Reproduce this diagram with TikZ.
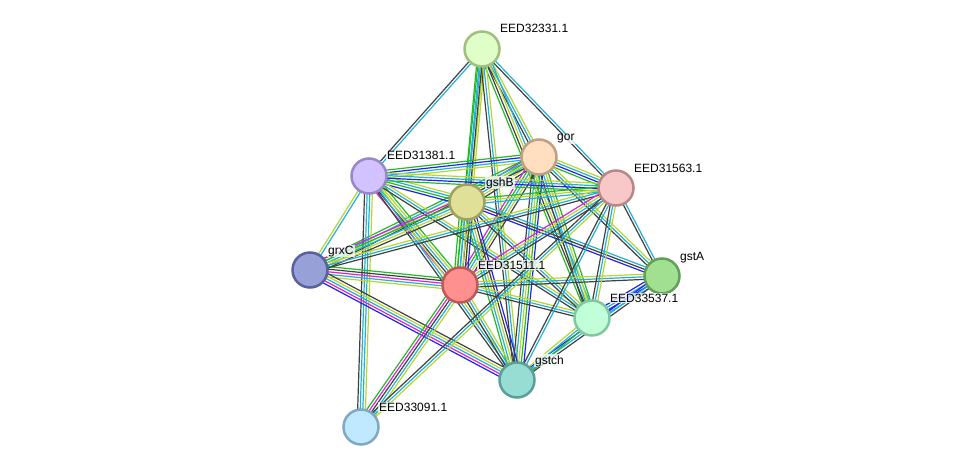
\documentclass[tikz,border=0pt]{standalone}
\usepackage{fontspec}
\setmainfont{Liberation Sans}
\usetikzlibrary{calc,backgrounds}

\definecolor{lgreen}{HTML}{22BB22}
\definecolor{lblue}{HTML}{2222EE}
\definecolor{lblack}{HTML}{404040}
\definecolor{lmag}{HTML}{DD22DD}
\definecolor{lcyan}{HTML}{22B0D8}
\definecolor{lyel}{HTML}{B8D630}

\definecolor{f32331}{HTML}{E0FFC8}\definecolor{d32331}{HTML}{A0C080}
\definecolor{fgor}{HTML}{FFDFC0}\definecolor{dgor}{HTML}{C0A080}
\definecolor{f31381}{HTML}{D2C2FF}\definecolor{d31381}{HTML}{9888C8}
\definecolor{f31563}{HTML}{F8C8C8}\definecolor{d31563}{HTML}{B88888}
\definecolor{fgshB}{HTML}{E0E098}\definecolor{dgshB}{HTML}{A0A060}
\definecolor{fgrxC}{HTML}{98A0D8}\definecolor{dgrxC}{HTML}{5860A0}
\definecolor{f31511}{HTML}{FF9090}\definecolor{d31511}{HTML}{C05858}
\definecolor{fgstA}{HTML}{A0E090}\definecolor{dgstA}{HTML}{60A058}
\definecolor{f33537}{HTML}{C0FFD8}\definecolor{d33537}{HTML}{80C8A0}
\definecolor{fgstch}{HTML}{98DDD4}\definecolor{dgstch}{HTML}{58A098}
\definecolor{f33091}{HTML}{C0E8FF}\definecolor{d33091}{HTML}{80A8C0}

\tikzset{
  prot/.style={circle, draw=d#1, fill=f#1, line width=2.5pt, minimum size=35pt, inner sep=0pt},
  lbl/.style={anchor=base west, inner sep=1pt, xshift=-1pt, fill=white, fill opacity=0.75,
    text opacity=1, font=\fontsize{12pt}{13pt}\selectfont},
  edgeline/.style={line width=1.2pt}
}

% parallel coloured lines between two proteins: from, to, count, colours
\newcommand{\edge}[4]{%
  \foreach \col [count=\k] in {#4} {
    \pgfmathsetmacro{\off}{(\k-(#3+1)/2)*2.6}
    \draw[\col, edgeline] ($(#1)!\off pt!90:(#2)$) -- ($(#2)!\off pt!-90:(#1)$);
  }
}

\begin{document}
\begin{tikzpicture}[x=1pt, y=-1pt]
    \useasboundingbox (0,0) rectangle (976,473);

    % proteins
    \node[prot=32331] (p32331) at (482, 49) {};
    \node[prot=gor] (gor) at (539, 157) {};
    \node[prot=31381] (p31381) at (369, 176) {};
    \node[prot=31563] (p31563) at (616, 188) {};
    \node[prot=gshB] (gshB) at (467, 202) {};
    \node[prot=grxC] (grxC) at (310, 270) {};
    \node[prot=31511] (p31511) at (460, 285) {};
    \node[prot=gstA] (gstA) at (662, 276) {};
    \node[prot=33537] (p33537) at (592, 318) {};
    \node[prot=gstch] (gstch) at (517, 380) {};
    \node[prot=33091] (p33091) at (361, 427) {};

    % labels
    \node[lbl] (t32331) at (500, 33) {EED32331.1};
    \node[lbl] (tgor) at (557, 141) {gor};
    \node[lbl] (t31381) at (387, 160) {EED31381.1};
    \node[lbl] (t31563) at (634, 172) {EED31563.1};
    \node[lbl] (tgshB) at (486, 186) {gshB};
    \node[lbl] (tgrxC) at (328, 254) {grxC};
    \node[lbl] (t31511) at (478, 269) {EED31511.1};
    \node[lbl] (tgstA) at (680, 260) {gstA};
    \node[lbl] (t33537) at (610, 302) {EED33537.1};
    \node[lbl] (tgstch) at (535, 364) {gstch};
    \node[lbl] (t33091) at (379, 411) {EED33091.1};

    % interactions
    \begin{pgfonlayer}{background}
    \edge{p32331}{p31381}{2}{lblack,lcyan}
    \edge{p32331}{gshB}{3}{lgreen,lcyan,lyel}
    \edge{p32331}{p31511}{4}{lgreen,lcyan,lblack,lyel}
    \edge{p32331}{gor}{3}{lblack,lcyan,lyel}
    \edge{p32331}{p33537}{4}{lgreen,lblack,lyel,lcyan}
    \edge{p32331}{gstch}{3}{lblack,lcyan,lyel}
    \edge{p32331}{p31563}{2}{lblack,lcyan}

    \edge{gor}{p31381}{4}{lgreen,lblue,lcyan,lyel}
    \edge{gor}{gshB}{5}{lmag,lgreen,lcyan,lyel,lblack}
    \edge{gor}{grxC}{4}{lgreen,lcyan,lyel,lblack}
    \edge{gor}{p31511}{5}{lmag,lgreen,lcyan,lyel,lblack}
    \edge{gor}{p31563}{4}{lgreen,lblue,lcyan,lyel}
    \edge{gor}{gstA}{3}{lblack,lcyan,lyel}
    \edge{gor}{p33537}{4}{lblack,lcyan,lyel,lgreen}
    \edge{gor}{gstch}{5}{lblack,lcyan,lyel,lgreen,lblue}

    \edge{p31381}{gshB}{4}{lblue,lgreen,lcyan,lyel}
    \edge{p31381}{grxC}{2}{lyel,lcyan}
    \edge{p31381}{p31511}{5}{lmag,lblack,lcyan,lyel,lgreen}
    \edge{p31381}{p33091}{4}{lblack,lcyan,lcyan,lyel}
    \edge{p31381}{p31563}{4}{lgreen,lblue,lcyan,lyel}
    \edge{p31381}{p33537}{3}{lblack,lcyan,lyel}
    \edge{p31381}{gstch}{3}{lblack,lcyan,lyel}

    \edge{gshB}{grxC}{5}{lmag,lgreen,lcyan,lyel,lblack}
    \edge{gshB}{p31511}{6}{lgreen,lgreen,lcyan,lyel,lblack,lblue}
    \edge{gshB}{p31563}{3}{lcyan,lyel,lgreen}
    \edge{gshB}{gstA}{3}{lblue,lblack,lcyan}
    \edge{gshB}{p33537}{3}{lblack,lcyan,lyel}
    \edge{gshB}{gstch}{5}{lgreen,lcyan,lyel,lblack,lblue}

    \edge{grxC}{p31511}{5}{lyel,lcyan,lmag,lblack,lgreen}
    \edge{grxC}{p31563}{3}{lblack,lcyan,lyel}
    \edge{grxC}{gstch}{5}{lblue,lmag,lcyan,lyel,lblack}

    \edge{p31511}{p31563}{4}{lblack,lcyan,lyel,lmag}
    \edge{p31511}{gstA}{3}{lblack,lcyan,lyel}
    \edge{p31511}{p33537}{3}{lblack,lcyan,lyel}
    \edge{p31511}{gstch}{3}{lblack,lcyan,lyel}
    \edge{p31511}{p33091}{5}{lgreen,lmag,lblack,lcyan,lyel}

    \edge{p31563}{gstA}{2}{lblack,lcyan}
    \edge{p31563}{p33537}{3}{lblack,lcyan,lyel}
    \edge{p31563}{gstch}{2}{lblack,lcyan}
    \edge{p31563}{p33091}{3}{lblack,lcyan,lyel}

    \edge{gstA}{p33537}{4}{lblue,lcyan,lblue,lcyan}
    \edge{gstA}{gstch}{3}{lblue,lcyan,lblack}
    \edge{p33537}{gstch}{3}{lyel,lcyan,lgreen}
    \end{pgfonlayer}
\end{tikzpicture}
\end{document}
